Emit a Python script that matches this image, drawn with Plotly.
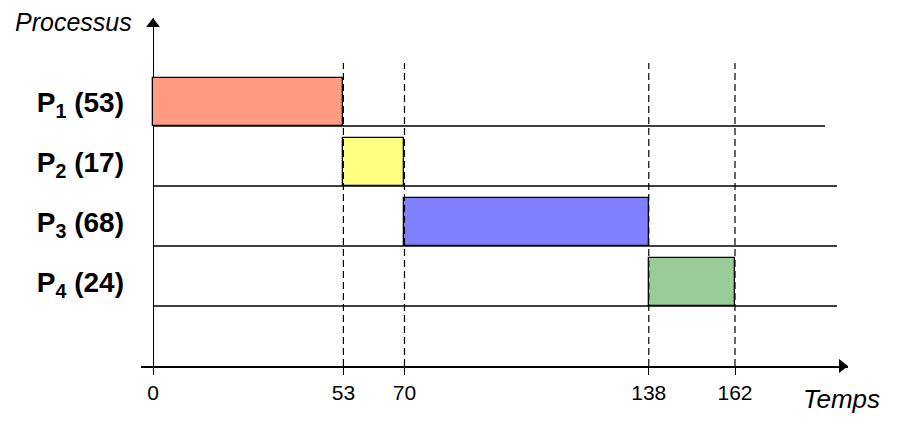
import plotly.graph_objects as go

# ---- data ----
processes = ["P1", "P2", "P3", "P4"]
durations = [53, 17, 68, 24]
starts = [0, 53, 70, 138]
tick_values = [0, 53, 70, 138, 162]
colors = ["#FF9B80", "#FFFF80", "#8080FF", "#99CC99"]

# ---- layout geometry (pixels) ----
W, H = 902, 426
L, R, T, B = 141, 54, 18, 60
x0_px, x162_px = 153, 735
scale = (x162_px - x0_px) / 162.0
xmin = (L - x0_px) / scale
xmax = (W - R - x0_px) / scale
row_px = 60.0
ymax = (H - B - T) / row_px

def tx(px):
    return (px - x0_px) / scale

def ty(py):
    return (H - B - py) / row_px

def px_paper(px):
    return (px - L) / (W - L - R)

def py_paper(py):
    return (H - B - py) / (H - T - B)

n = len(processes)
baselines = [n - i for i in range(n)]          # 4,3,2,1
centers = [b + 0.4 for b in baselines]

fig = go.Figure()

# row separator lines
line_ends = [tx(825)] + [tx(837)] * (n - 1)
for b, e in zip(baselines, line_ends):
    fig.add_trace(go.Scatter(x=[0, e], y=[b, b], mode="lines",
                             line=dict(color="black", width=1.5),
                             hoverinfo="skip", showlegend=False))

# dashed time markers
for t in tick_values[1:]:
    fig.add_trace(go.Scatter(x=[t, t], y=[0, ty(63)], mode="lines",
                             line=dict(color="black", width=1.2, dash="7px,4px"),
                             hoverinfo="skip", showlegend=False))

# bars
fig.add_trace(go.Bar(
    y=centers, x=durations, base=starts, orientation="h", width=0.8,
    marker=dict(color=colors, line=dict(color="black", width=1.3)),
    showlegend=False,
))

# arrow heads
fig.add_trace(go.Scatter(x=[tx(842)], y=[0], mode="markers",
                         marker=dict(symbol="triangle-right", size=12, color="black"),
                         cliponaxis=False, showlegend=False, hoverinfo="skip"))
fig.add_trace(go.Scatter(x=[0], y=[ty(24)], mode="markers",
                         marker=dict(symbol="triangle-up", size=12, color="black"),
                         cliponaxis=False, showlegend=False, hoverinfo="skip"))

ticktext = ["<b>P<sub>%s</sub> (%d)</b>" % (p[1:], d) for p, d in zip(processes, durations)]

fig.update_layout(
    width=W, height=H,
    margin=dict(l=L, r=R, t=T, b=B, autoexpand=False),
    paper_bgcolor="white", plot_bgcolor="white",
    font=dict(family="Liberation Sans, Arial, sans-serif", color="black"),
    bargap=0,
    xaxis=dict(range=[xmin, xmax], showgrid=False, zeroline=True,
               zerolinecolor="black", zerolinewidth=1.3, automargin=False,
               showline=True, linecolor="black", linewidth=1.5,
               tickvals=tick_values, ticks="outside", ticklen=7,
               tickcolor="black", tickwidth=1.2,
               tickfont=dict(size=21, family="Liberation Sans, Arial, sans-serif")),
    yaxis=dict(range=[0, ymax], showgrid=False, zeroline=False, showline=False,
               automargin=False,
               tickvals=centers, ticktext=ticktext, ticks="",
               ticklabelstandoff=16,
               tickfont=dict(size=28, family="Liberation Sans, Arial, sans-serif")),
    annotations=[
        dict(x=px_paper(134), y=py_paper(22), xref="paper", yref="paper",
             text="<i>Processus</i>",
             showarrow=False, xanchor="right", yanchor="middle",
             font=dict(size=25)),
        dict(x=px_paper(801), y=py_paper(399), xref="paper", yref="paper",
             text="<i>Temps</i>",
             showarrow=False, xanchor="left", yanchor="middle",
             font=dict(size=26)),
    ],
)

fig.write_html("out.html", config={"displayModeBar": False},
               post_script="document.body.style.margin='0';document.body.style.overflow='hidden';")
